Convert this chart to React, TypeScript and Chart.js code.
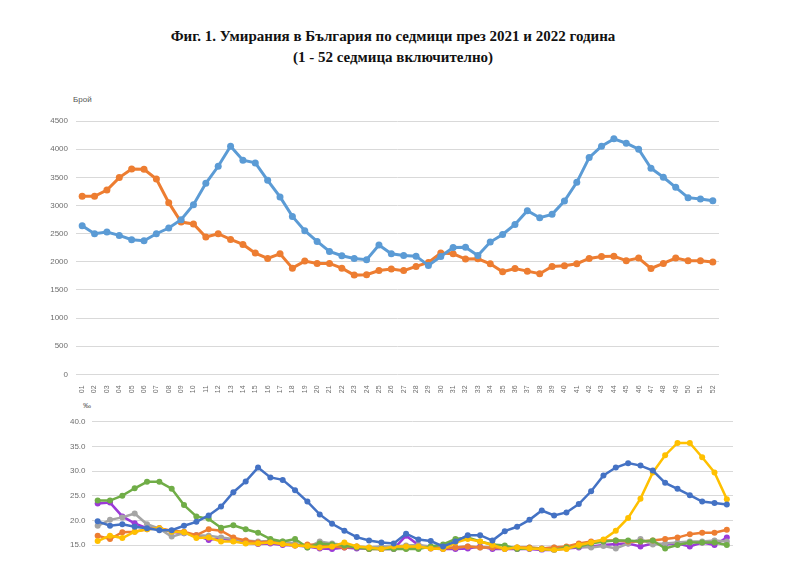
import { useEffect, useRef } from 'react'
import { Chart, registerables } from 'chart.js'

Chart.register(...registerables)

// седмици 01..52
const weeks = Array.from({ length: 52 }, (_, i) => String(i + 1).padStart(2, '0'))

// брой умирания
const deaths2021 = [
  2641, 2498, 2528, 2468, 2391, 2373, 2498, 2599, 2747, 3014,
  3393, 3696, 4052, 3803, 3756, 3447, 3151, 2806, 2552, 2361,
  2183, 2107, 2059, 2036, 2297, 2142, 2112, 2100, 1935, 2094,
  2255, 2260, 2112, 2350, 2486, 2664, 2908, 2783, 2842, 3080,
  3411, 3851, 4052, 4183, 4105, 3998, 3660, 3500, 3322, 3139,
  3115, 3085,
]
const deaths2022 = [
  3162, 3162, 3275, 3495, 3649, 3643, 3471, 3050, 2706, 2671,
  2440, 2498, 2397, 2308, 2154, 2059, 2142, 1887, 2012, 1970,
  1970, 1887, 1763, 1769, 1845, 1870, 1843, 1917, 1988, 2154,
  2142, 2048, 2054, 1965, 1822, 1881, 1834, 1787, 1917, 1929,
  1965, 2059, 2094, 2100, 2018, 2065, 1881, 1970, 2065, 2018,
  2018, 1994,
]

// коефициенти (‰)
const rateBlue = [
  19.8, 18.9, 19.2, 18.7, 18.4, 18.0, 18.0, 18.9, 19.7, 21.0,
  22.8, 25.7, 27.9, 30.7, 28.7, 28.2, 26.1, 23.8, 21.2, 19.3,
  17.9, 16.6, 15.9, 15.5, 15.3, 17.3, 16.1, 15.8, 14.7, 15.7,
  17.0, 17.0, 15.9, 17.8, 18.7, 20.1, 22.0, 21.0, 21.6, 23.3,
  25.9, 29.1, 30.7, 31.6, 31.1, 30.1, 27.6, 26.4, 25.1, 23.8,
  23.5, 23.2,
]
const rateYellow = [
  15.8, 16.9, 16.4, 17.7, 18.2, 18.4, 17.7, 17.6, 16.4, 16.5,
  15.7, 15.7, 15.3, 15.3, 15.5, 15.2, 14.9, 14.8, 14.5, 14.7,
  15.5, 14.7, 14.5, 14.2, 14.7, 14.7, 14.7, 14.3, 14.2, 15.5,
  16.2, 15.7, 15.0, 14.2, 14.5, 14.3, 14.2, 14.0, 14.2, 15.0,
  15.5, 16.1, 17.9, 20.5, 24.4, 29.7, 33.2, 35.7, 35.7, 32.8,
  29.7, 24.3,
]
const rateGreen = [
  24.0, 24.0, 25.0, 26.5, 27.8, 27.8, 26.4, 23.1, 20.8, 20.3,
  18.5, 19.0, 18.2, 17.5, 16.2, 15.7, 16.2, 14.5, 15.3, 15.1,
  14.9, 14.5, 14.2, 14.2, 14.2, 14.2, 14.2, 14.7, 15.1, 16.2,
  16.5, 15.7, 15.1, 14.9, 14.2, 14.3, 14.2, 14.0, 14.5, 14.7,
  15.3, 15.7, 15.9, 15.9, 15.7, 15.9, 14.3, 15.0, 15.5, 15.5,
  15.5, 15.0,
]
const ratePurple = [
  23.4, 23.6, 20.8, 19.4, 18.4, 18.4, 17.7, 17.4, 17.0, 16.0,
  16.4, 15.8, 15.5, 15.2, 15.3, 15.0, 14.9, 14.7, 14.3, 14.2,
  14.5, 14.3, 14.3, 14.2, 14.2, 16.9, 15.0, 14.3, 14.2, 14.2,
  14.3, 14.7, 14.2, 14.2, 14.2, 14.2, 14.0, 14.0, 14.3, 14.5,
  14.7, 15.0, 15.2, 15.3, 14.7, 15.3, 15.1, 15.3, 14.7, 15.5,
  15.0, 16.5,
]
const rateGray = [
  18.9, 20.1, 20.6, 21.4, 19.2, 18.3, 16.7, 17.4, 17.0, 16.9,
  16.5, 16.2, 15.9, 15.7, 15.8, 15.7, 15.3, 14.5, 15.7, 15.3,
  15.0, 14.7, 14.5, 14.7, 14.7, 14.9, 15.0, 14.7, 14.5, 14.5,
  14.7, 14.5, 14.5, 14.3, 14.5, 14.5, 14.3, 14.5, 14.5, 14.7,
  14.5, 14.8, 14.3, 15.3, 16.2, 15.1, 15.3, 15.5, 15.7, 15.7,
  15.9, 15.7,
]
const rateOrange = [
  16.9, 16.2, 17.6, 17.7, 18.2, 18.4, 17.9, 17.7, 17.0, 18.2,
  17.9, 16.5, 15.9, 15.5, 15.7, 15.2, 14.9, 15.1, 15.0, 14.7,
  14.5, 14.7, 14.2, 14.2, 14.3, 14.3, 14.5, 14.5, 14.3, 14.5,
  14.7, 14.5, 14.5, 14.3, 14.5, 14.5, 14.3, 14.5, 14.7, 15.3,
  15.7, 15.9, 15.9, 15.7, 15.7, 15.9, 16.2, 16.5, 17.2, 17.5,
  17.5, 18.1,
]
const rateTicks = [15, 20, 25, 30, 35, 40]

const tickFont = { family: 'Liberation Sans', size: 8 }
const tickColor = '#6e6e6e'
const gridColor = '#d9d9d9'

function line(label: string, data: number[], color: string, width: number, radius: number) {
  return {
    label,
    data,
    borderColor: color,
    backgroundColor: color,
    borderWidth: width,
    pointRadius: radius,
    pointBorderWidth: 0,
    tension: 0,
  }
}

function DeathsChart() {
  const canvasRef = useRef<HTMLCanvasElement>(null)

  useEffect(() => {
    if (!canvasRef.current) return
    const chart = new Chart(canvasRef.current, {
      type: 'line',
      data: {
        labels: weeks,
        datasets: [
          line('2021', deaths2021, '#5b9bd5', 3, 3.5),
          line('2022', deaths2022, '#ed7d31', 3, 3.5),
        ],
      },
      options: {
        responsive: false,
        animation: false,
        layout: { padding: { top: 31, right: 67, bottom: 0, left: 0 } },
        plugins: { legend: { display: false }, tooltip: { enabled: false } },
        scales: {
          x: {
            offset: true,
            grid: { display: false },
            border: { display: false },
            ticks: {
              font: { family: 'Liberation Sans', size: 7 },
              color: tickColor,
              minRotation: 90,
              maxRotation: 90,
              autoSkip: false,
              padding: 3,
            },
            afterFit: (s: any) => { s.height = 25.6 },
          },
          y: {
            min: 0,
            max: 4500,
            grid: { color: gridColor, drawTicks: false },
            border: { display: false },
            ticks: {
              stepSize: 500,
              font: tickFont,
              color: tickColor,
              padding: 8,
              callback: (v: any) => String(v),
            },
            afterFit: (s: any) => { s.width = 76 },
          },
        },
      },
    })
    return () => { chart.destroy() }
  }, [])

  return <canvas ref={canvasRef} width={786} height={310} style={{ position: 'absolute', left: 0, top: 90 }} />
}

function RatesChart() {
  const canvasRef = useRef<HTMLCanvasElement>(null)

  useEffect(() => {
    if (!canvasRef.current) return
    const chart = new Chart(canvasRef.current, {
      type: 'line',
      data: {
        labels: weeks,
        datasets: [
          line('2021', rateBlue, '#4472c4', 2.5, 3),
          line('2020', rateYellow, '#ffc000', 2.5, 3),
          line('2022', rateGreen, '#70ad47', 2.5, 3),
          line('2019', rateOrange, '#ed7d31', 2.5, 3),
          line('2018', rateGray, '#a5a5a5', 2.5, 3),
          line('2017', ratePurple, '#9b3ad8', 2.5, 3),
        ],
      },
      options: {
        responsive: false,
        animation: false,
        layout: { padding: { top: 21.7, right: 53, bottom: 17.6, left: 0 } },
        plugins: { legend: { display: false }, tooltip: { enabled: false } },
        scales: {
          x: { display: false, offset: true },
          y: {
            min: 13.5,
            max: 40,
            grid: { color: gridColor, drawTicks: false },
            border: { display: false },
            ticks: {
              font: tickFont,
              color: tickColor,
              padding: 6,
              callback: (v: any) => Number(v).toFixed(1),
            },
            afterBuildTicks: (s: any) => { s.ticks = rateTicks.map((value) => ({ value })) },
            afterFit: (s: any) => { s.width = 91.5 },
          },
        },
      },
    })
    return () => { chart.destroy() }
  }, [])

  return <canvas ref={canvasRef} width={786} height={170} style={{ position: 'absolute', left: 0, top: 400 }} />
}

export default function App() {
  return (
    <div style={{ position: 'absolute', left: 0, top: 0, width: 786, height: 581, overflow: 'hidden', background: '#fff' }}>
      <div
        style={{
          position: 'absolute',
          top: 26,
          left: 0,
          width: 786,
          textAlign: 'center',
          fontFamily: '"Liberation Serif", serif',
          fontWeight: 'bold',
          fontSize: 15,
          lineHeight: '21px',
          color: '#111',
        }}
      >
        <div>Фиг. 1. Умирания в България по седмици през 2021 и 2022 година</div>
        <div>(1 - 52 седмица включително)</div>
      </div>
      <div style={{ position: 'absolute', left: 73, top: 95, fontFamily: 'Liberation Sans', fontSize: 8, color: '#555' }}>
        Брой
      </div>
      <DeathsChart />
      <div style={{ position: 'absolute', left: 83, top: 401, fontFamily: 'Liberation Sans', fontSize: 8, color: '#555' }}>
        ‰
      </div>
      <RatesChart />
    </div>
  )
}
